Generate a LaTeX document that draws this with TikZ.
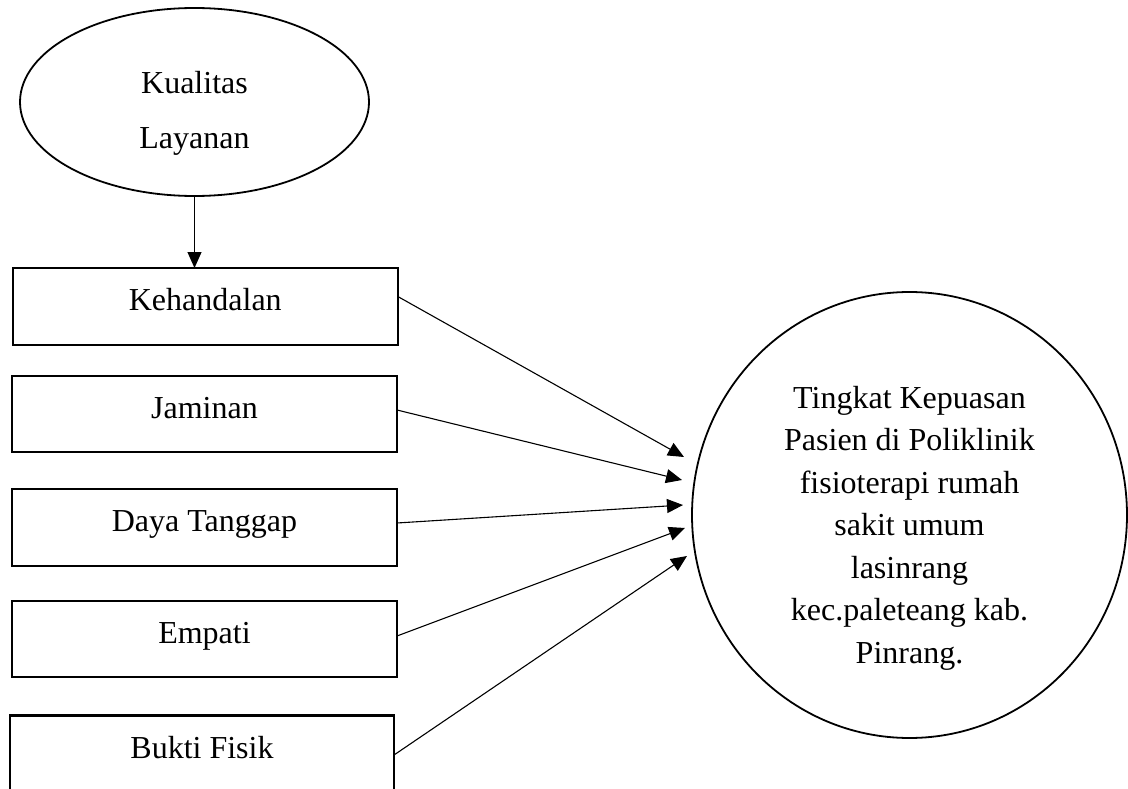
\documentclass[tikz,border=0pt]{standalone}
\usepackage{fontspec}
\setmainfont{Liberation Serif}
\usetikzlibrary{shapes.geometric,arrows.meta}
\tikzset{
  dimbox/.style={draw, line width=2.2pt, rectangle, minimum width=385pt, minimum height=77pt,
    inner sep=0pt, outer sep=0pt, text height=12pt, text depth=4pt,
    font=\fontsize{32}{40}\selectfont},
  oval/.style={draw, line width=1.8pt, ellipse, inner sep=0pt, outer sep=0pt},
  conn/.style={line width=1.1pt, -{Triangle[length=16pt,width=14pt]}},
  txt/.style={align=center}
}
\begin{document}
\begin{tikzpicture}[x=1pt,y=-1pt]
\clip (0,0) rectangle (1128,789);
\fill[white] (0,0) rectangle (1128,789);
% top ellipse
\node[oval, minimum width=349pt, minimum height=188pt,
  label={[txt, font=\fontsize{32}{55}\selectfont, yshift=-11pt]center:Kualitas\\Layanan}] (e) at (194.5,102) {};
% boxes
\node[dimbox] (b1) at (205.3,306.5) {Kehandalan};
\node[dimbox, minimum height=76pt] (b2) at (204.5,414) {Jaminan};
\node[dimbox] (b3) at (204.5,527.5) {Daya Tanggap};
\node[dimbox, minimum height=76pt] (b4) at (204.5,639) {Empati};
\node[dimbox, minimum width=384pt] (b5) at (202,754) {Bukti Fisik};
% big circle
\node[oval, minimum width=435pt, minimum height=446pt,
  label={[txt, font=\fontsize{32}{42.5}\selectfont, yshift=-13pt]center:Tingkat Kepuasan\\Pasien di Poliklinik\\fisioterapi rumah\\sakit umum\\lasinrang\\kec.paleteang kab.\\Pinrang.}] (c) at (909.5,515) {};
% arrow tips
\coordinate (t1) at (684,457);
\coordinate (t2) at (682,480);
\coordinate (t3) at (683,505);
\coordinate (t4) at (685,528);
\coordinate (t5) at (687,556);
\coordinate (eb) at (194.5,268);
% connectors
\draw[conn] (e.south) -- (eb);
\draw[conn] ([yshift=10pt]b1.east) -- (t1);
\draw[conn] ([yshift=4pt]b2.east) -- (t2);
\draw[conn] ([yshift=4.5pt]b3.east) -- (t3);
\draw[conn] ([yshift=3pt]b4.east) -- (t4);
\draw[conn] ([yshift=-1pt]b5.east) -- (t5);
\end{tikzpicture}
\end{document}
